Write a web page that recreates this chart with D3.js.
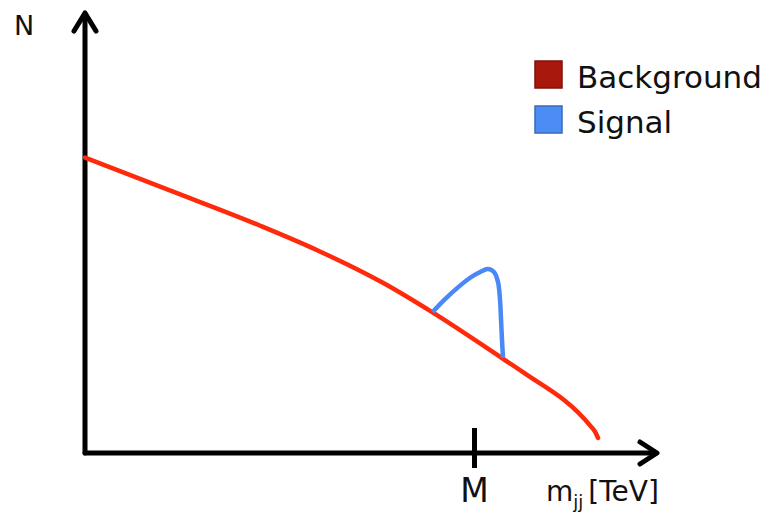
<!DOCTYPE html>
<html>
<head>
<meta charset="utf-8">
<script src="https://cdn.jsdelivr.net/npm/d3@7"></script>
<style>
  html, body { margin: 0; padding: 0; background: #fff; }
  svg { display: block; }
  text { font-family: "DejaVu Sans", sans-serif; fill: #111; }
</style>
</head>
<body>
<svg id="chart" width="765" height="514"></svg>
<script>
// Falling background spectrum in dijet mass (TeV) and arbitrary counts
const bgMass   = [0, 0.9, 1.85, 2.45, 3.15, 3.65, 4.4, 4.61, 5.32, 5.37, 5.4];
const bgCounts = [68.7, 61.0, 52.8, 47.1, 39.4, 32.8, 21.9, 18.8, 6.3, 4.9, 3.5];

// Resonance bump sitting on top of the background
const sigMass   = [3.66, 3.79, 4.05, 4.16, 4.24, 4.305, 4.347, 4.368, 4.379, 4.389, 4.40];
const sigCounts = [32.8, 35.8, 40.7, 42.1, 42.8, 42.1, 39.8, 35.8, 31.2, 26.5, 22.1];

const massTicks = [4.1];
const massTickLabels = ["M"];

const legendLabels = ["Background", "Signal"];
const legendColors = ["#a8180c", "#4c8df5"];

const svg = d3.select("#chart");

const x = d3.scaleLinear().domain([0, 6]).range([85, 655]);
const y = d3.scaleLinear().domain([0, 100]).range([453, 23]);

const x0 = x(0), y0 = y(0);

// Axes with open arrowheads
const axes = svg.append("g")
  .attr("stroke", "#000").attr("stroke-width", 5)
  .attr("stroke-linecap", "round").attr("stroke-linejoin", "round")
  .attr("fill", "none");

axes.append("line").attr("x1", x0).attr("y1", y0).attr("x2", x0).attr("y2", 14);
axes.append("path").attr("d", `M${x0 - 11},31 L${x0},13 L${x0 + 11},31`);

axes.append("line").attr("x1", x0).attr("y1", y0).attr("x2", 656).attr("y2", y0);
axes.append("path").attr("d", `M640,${y0 - 11} L657,${y0} L640,${y0 + 11}`);

// Mass tick
axes.selectAll("line.tick").data(massTicks).join("line")
  .attr("class", "tick")
  .attr("stroke-linecap", "butt")
  .attr("x1", d => x(d)).attr("x2", d => x(d))
  .attr("y1", y0 - 25).attr("y2", y0 + 15);

svg.selectAll("text.ticklabel").data(massTicks).join("text")
  .attr("class", "ticklabel")
  .attr("x", d => x(d)).attr("y", 502)
  .attr("text-anchor", "middle")
  .attr("font-size", 33)
  .text((d, i) => massTickLabels[i]);

// Axis titles
svg.append("text").attr("x", 14).attr("y", 35).attr("font-size", 27).text("N");

const xt = svg.append("text").attr("x", 546).attr("y", 501).attr("font-size", 28);
xt.append("tspan").text("m");
xt.append("tspan").attr("font-size", 18).attr("dy", 7).text("jj");
xt.append("tspan").attr("dy", -7).attr("dx", 5).text("[TeV]");

// Curves
svg.append("path")
  .datum(d3.zip(bgMass, bgCounts))
  .attr("d", d3.line().x(d => x(d[0])).y(d => y(d[1])).curve(d3.curveMonotoneX))
  .attr("fill", "none")
  .attr("stroke", "#ff2a0c")
  .attr("stroke-width", 4.5)
  .attr("stroke-linecap", "round");

svg.append("path")
  .datum(d3.zip(sigMass, sigCounts))
  .attr("d", d3.line().x(d => x(d[0])).y(d => y(d[1])).curve(d3.curveCatmullRom.alpha(0.5)))
  .attr("fill", "none")
  .attr("stroke", "#4a88f6")
  .attr("stroke-width", 4.5)
  .attr("stroke-linecap", "butt");

// Legend
const legend = svg.append("g");
const rows = legend.selectAll("g").data(legendLabels).join("g")
  .attr("transform", (d, i) => `translate(535,${61 + i * 45})`);

rows.append("rect")
  .attr("width", 27).attr("height", 27)
  .attr("fill", (d, i) => legendColors[i])
  .attr("stroke", (d, i) => d3.color(legendColors[i]).darker(0.8))
  .attr("stroke-width", 1.5);

rows.append("text")
  .attr("x", 42).attr("y", 27)
  .attr("font-size", 31)
  .text(d => d);
</script>
</body>
</html>
